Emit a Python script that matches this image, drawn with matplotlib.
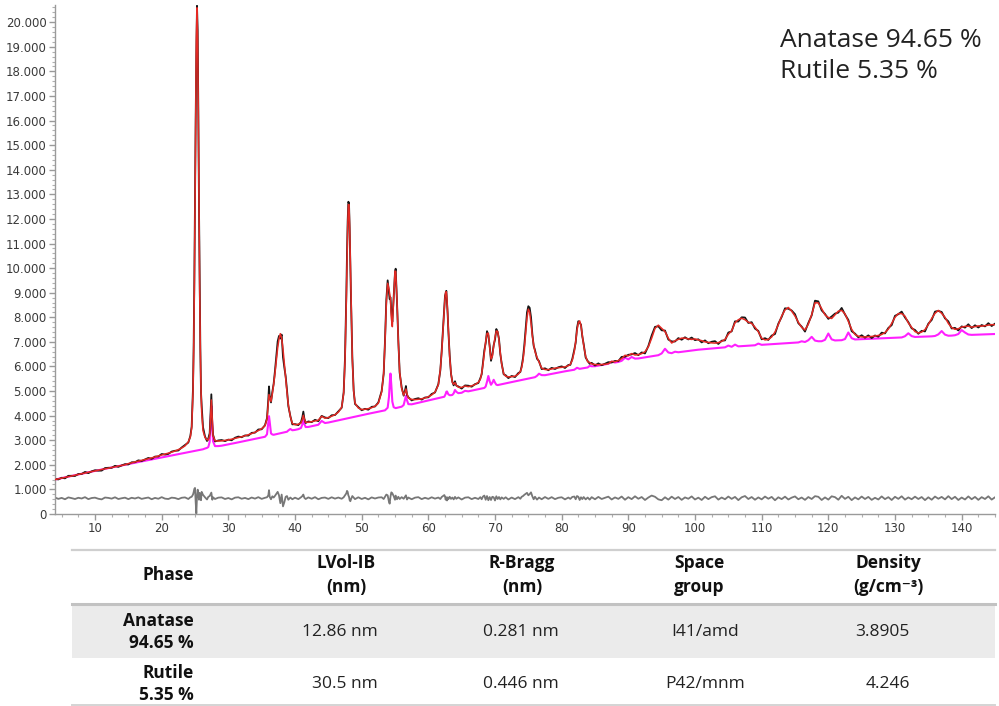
import numpy as np
import matplotlib
matplotlib.use("Agg")
import matplotlib.pyplot as plt
from matplotlib.ticker import MultipleLocator, FuncFormatter
from matplotlib.lines import Line2D
from matplotlib.patches import Rectangle

# ---------------------------------------------------------------------------
# Rietveld refinement of a TiO2 powder pattern (Cu K-alpha)
# ---------------------------------------------------------------------------
two_theta = [
    4.0, 4.5, 5.0, 5.5, 6.0, 6.5, 7.0, 7.5, 8.0, 8.5, 9.0, 9.5, 10.0, 10.5, 11.0, 11.5, 12.0, 12.5, 13.0, 13.5,
    14.0, 14.5, 15.0, 15.5, 16.0, 16.5, 17.0, 17.5, 18.0, 18.5, 19.0, 19.5, 20.0, 20.5, 21.0, 21.5, 22.0, 22.5, 23.0, 23.5,
    24.0, 24.3, 24.5, 24.7, 24.8, 24.9, 25.0, 25.1, 25.2, 25.3, 25.4, 25.5, 25.6, 25.7, 25.8, 25.9, 26.0, 26.2, 26.5, 26.8,
    27.0, 27.2, 27.3, 27.45, 27.6, 27.7, 28.0, 28.5,
    29.0, 29.5, 30.0, 30.5, 31.0, 31.5, 32.0, 32.5, 33.0, 33.5, 34.0, 34.5, 35.0, 35.5,
    35.8, 36.0, 36.1, 36.2, 36.4, 36.6, 36.8, 37.0, 37.2, 37.4, 37.6, 37.8, 38.0, 38.2, 38.4, 38.6, 38.8, 39.0, 39.3, 39.6,
    40.0, 40.5, 40.9, 41.1, 41.25, 41.4, 41.6, 42.0, 42.5, 43.0, 43.5, 44.0, 44.5, 45.0, 45.5, 46.0, 46.5,
    47.0, 47.3, 47.5, 47.7, 47.8, 47.9, 48.0, 48.1, 48.2, 48.3, 48.4, 48.6, 48.8, 49.0, 49.5, 50.0, 50.5, 51.0, 51.5, 52.0, 52.5,
    53.0, 53.3, 53.5, 53.7, 53.9, 54.1, 54.2, 54.32, 54.45, 54.6, 54.8, 55.0, 55.1, 55.3, 55.5, 55.7, 56.0, 56.3, 56.5, 56.64,
    56.8, 57.0, 57.5, 58.0, 58.5, 59.0, 59.5, 60.0, 60.5, 61.0, 61.5,
    61.8, 62.0, 62.2, 62.4, 62.5, 62.6, 62.7, 62.8, 62.9, 63.0, 63.2, 63.4, 63.6, 63.8, 64.0, 64.2, 64.5, 65.0, 65.5, 66.0,
    66.5, 67.0, 67.5,
    67.8, 68.0, 68.2, 68.4, 68.6, 68.8, 69.0, 69.2, 69.4, 69.6, 69.8, 70.0, 70.2, 70.4, 70.6, 70.8, 71.0, 71.3, 71.6, 72.0, 72.5,
    73.0, 73.5, 73.8, 74.0, 74.2, 74.4, 74.6, 74.8, 75.0, 75.2, 75.4, 75.6, 75.8, 76.0, 76.3, 76.6, 77.0, 77.5, 78.0, 78.5,
    79.0, 79.5,
    80.0, 80.5, 81.0, 81.3, 81.6, 81.9, 82.1, 82.3, 82.5, 82.7, 82.9, 83.1, 83.3, 83.6, 83.9, 84.2, 84.5,
    85.0, 85.5, 86.0, 86.5, 87.0, 87.5, 88.0, 88.5, 89.0, 89.5,
    90.0, 90.5, 91.0, 91.5, 92.0, 92.5, 93.0, 93.5, 94.0, 94.5,
    95.0, 95.5, 96.0, 96.5, 97.0, 97.5, 98.0, 98.5, 99.0, 99.5,
    100.0, 100.5, 101.0, 101.5, 102.0, 102.5, 103.0, 103.5, 104.0, 104.5,
    105.0, 105.5, 106.0, 106.5, 107.0, 107.5, 108.0, 108.5, 109.0, 109.5,
    110.0, 110.5, 111.0, 111.5, 112.0, 112.5, 113.0, 113.5, 114.0, 114.5,
    115.0, 115.5, 116.0, 116.5, 117.0, 117.5, 118.0, 118.5, 119.0, 119.5,
    120.0, 120.5, 121.0, 121.5, 122.0, 122.5, 123.0, 123.5, 124.0, 124.5,
    125.0, 125.5, 126.0, 126.5, 127.0, 127.5, 128.0, 128.5, 129.0, 129.5,
    130.0, 130.5, 131.0, 131.5, 132.0, 132.5, 133.0, 133.5, 134.0, 134.5,
    135.0, 135.5, 136.0, 136.5, 137.0, 137.5, 138.0, 138.5, 139.0, 139.5,
    140.0, 140.5, 141.0, 141.5, 142.0, 142.5, 143.0, 143.5, 144.0, 144.5,
    145.0,
]

# background plus rutile contribution (counts)
bkg_rutile = [
    1400, 1430, 1460, 1490, 1518, 1548, 1577, 1607, 1636, 1666, 1696, 1725, 1755, 1782, 1810, 1837, 1865, 1892, 1920, 1947,
    1975, 2002, 2030, 2058, 2085, 2112, 2140, 2168, 2195, 2222, 2250, 2278, 2305, 2332, 2358, 2384, 2411, 2438, 2464, 2490,
    2517, 2533, 2543, 2554, 2559, 2565, 2570, 2575, 2580, 2586, 2591, 2596, 2601, 2606, 2612, 2617, 2622, 2632, 2663, 2689,
    2724, 2934, 3465, 4397, 3480, 2960, 2761, 2762,
    2778, 2804, 2830, 2858, 2886, 2914, 2942, 2970, 2998, 3026, 3054, 3082, 3110, 3141,
    3240, 3752, 3978, 3764, 3277, 3234, 3222, 3234, 3246, 3259, 3271, 3284, 3296, 3308, 3321, 3333, 3346, 3398, 3457, 3405,
    3420, 3450, 3499, 3646, 3815, 3664, 3536, 3540, 3570, 3600, 3630, 3785, 3700, 3720, 3750, 3780, 3810,
    3840, 3858, 3870, 3882, 3888, 3894, 3900, 3906, 3912, 3918, 3924, 3936, 3948, 3960, 3990, 4020, 4048, 4076, 4104, 4132, 4160,
    4188, 4205, 4216, 4267, 4323, 4770, 5270, 5712, 5239, 4568, 4344, 4320, 4306, 4319, 4332, 4345, 4364, 4433, 4656, 4805,
    4625, 4468, 4460, 4492, 4524, 4556, 4588, 4620, 4651, 4682, 4713,
    4732, 4744, 4756, 4769, 4825, 4881, 4972, 4984, 4920, 4866, 4833, 4831, 4843, 4906, 5043, 4970, 4914, 4930, 5009, 4988,
    5017, 5046, 5075,
    5092, 5104, 5116, 5127, 5184, 5375, 5612, 5399, 5255, 5337, 5458, 5345, 5257, 5243, 5255, 5266, 5278, 5295, 5313, 5336, 5365,
    5394, 5423, 5440, 5452, 5464, 5475, 5487, 5498, 5510, 5521, 5532, 5542, 5553, 5564, 5620, 5706, 5648, 5645, 5672, 5699,
    5726, 5753,
    5780, 5803, 5826, 5840, 5854, 5867, 5907, 5946, 5925, 5904, 5913, 5923, 5932, 5946, 5959, 6023, 6007,
    6010, 6035, 6060, 6085, 6110, 6195, 6160, 6185, 6230, 6355,
    6290, 6385, 6320, 6326, 6350, 6370, 6392, 6414, 6436, 6458,
    6530, 6720, 6568, 6540, 6600, 6578, 6596, 6615, 6632, 6651,
    6670, 6682, 6694, 6706, 6718, 6730, 6742, 6754, 6766, 6778,
    6850, 6800, 6888, 6818, 6826, 6835, 6844, 6853, 6862, 6931,
    6880, 6889, 6898, 6907, 6916, 6925, 6934, 6943, 6952, 6961,
    6970, 6977, 7024, 6995, 7068, 7205, 7052, 7025, 7026, 7083,
    7340, 7102, 7058, 7061, 7068, 7115, 7382, 7149, 7098, 7103,
    7110, 7116, 7122, 7128, 7134, 7140, 7146, 7152, 7158, 7164,
    7170, 7175, 7180, 7230, 7350, 7235, 7200, 7205, 7210, 7215,
    7220, 7225, 7240, 7305, 7440, 7295, 7250, 7255, 7270, 7320,
    7480, 7380, 7300, 7285, 7290, 7295, 7300, 7305, 7310, 7315,
    7320,
]

# anatase contribution to the calculated profile (counts)
anatase = [
    0, 0, 0, 0, 0, 0, 0, 0, 0, 0, 0, 0, 0, 0, 0, 0, 0, 0, 0, 0,
    0, 0, 20, 25, 30, 35, 40, 45, 55, 60, 70, 80, 90, 100, 115, 130, 150, 180, 220, 280,
    420, 600, 950, 2410, 4050, 6550, 9900, 13600, 16720, 18000, 16720, 13600, 9900, 6550, 4050, 2410, 1530, 760, 450, 330,
    290, 260, 250, 240, 235, 230, 220, 205,
    195, 190, 185, 185, 190, 195, 200, 210, 225, 245, 270, 310, 360, 450,
    620, 800, 880, 1000, 1300, 1650, 2050, 2500, 3000, 3500, 3850, 4050, 3850, 3400, 2800, 2200, 1600, 1050, 500, 280,
    210, 200, 200, 200, 200, 200, 195, 190, 185, 185, 185, 190, 195, 205, 225, 260, 330,
    500, 1050, 2350, 4850, 6400, 7750, 8680, 8680, 7750, 6400, 4850, 2350, 1050, 550, 320, 230, 210, 210, 220, 250, 345,
    775, 1525, 2770, 4300, 5060, 4370, 3685, 3040, 2740, 3050, 4400, 5560, 5560, 4350, 2660, 1430, 740, 400, 300, 280,
    265, 250, 200, 160, 140, 130, 130, 150, 190, 275, 535,
    1140, 1825, 2680, 3600, 3975, 4150, 4065, 3720, 3190, 2640, 1570, 900, 510, 370, 300, 270, 240, 220, 195, 190,
    195, 215, 280,
    385, 615, 970, 1420, 1825, 1970, 1740, 1390, 1045, 1075, 1370, 1835, 2185, 2185, 1815, 1275, 815, 410, 290, 240, 220,
    210, 265, 355, 500, 790, 1260, 1865, 2480, 2820, 2695, 2235, 1700, 1325, 1040, 750, 480, 285, 230, 200, 200,
    205, 195,
    185, 180, 205, 250, 405, 750, 1100, 1525, 1855, 1950, 1745, 1330, 930, 460, 235, 140, 95,
    70, 35, 20, 5, 0, 15, 30, 55, 90, 100,
    140, 140, 146, 154, 172, 230, 408, 736, 1114, 1222,
    1020, 700, 582, 413, 444, 525, 556, 537, 488, 449,
    450, 398, 356, 294, 262, 230, 208, 216, 254, 322,
    460, 651, 892, 1083, 1134, 1065, 956, 897, 738, 479,
    270, 191, 202, 293, 484, 775, 1116, 1357, 1448, 1289,
    1080, 823, 566, 489, 652, 900, 1538, 1561, 1324, 1017,
    650, 850, 1046, 1189, 1212, 1025, 450, 361, 204, 127,
    90, 84, 88, 92, 106, 120, 154, 228, 362, 586,
    830, 975, 970, 815, 420, 355, 220, 155, 190, 285,
    480, 725, 920, 975, 720, 705, 500, 325, 240, 215,
    120, 250, 340, 315, 330, 355, 340, 355, 370, 385,
    380,
]

# observed minus calculated (counts)
residual = [
    30, -25, 15, -40, 35, 5, -30, 20, -10, 45, -35, 10, 25, -20, -45, 30, 15, -15, 40, -30,
    0, 25, -35, 20, -10, 35, -25, 5, 30, -40, 15, -20, 45, -15, -30, 25, 10, -35, 20, 35,
    -30, 40, 60, 150, 250, 380, 420, -150, -620, 80, 350, 180, -60, 220, 120, -80, 260, 140, 40, -50,
    60, 90, 150, 230, -60, 40, -30, 25,
    35, -30, 10, -45, 25, 40, -20, 15, -35, 30, -15, 45, -25, 20,
    40, 120, 330, 60, -40, 80, 30, 100, 180, 260, 120, -200, 150, -330, -160, 60, 90, -60, 30, -40,
    25, -35, 40, 90, 150, 20, -30, 35, -20, 45, -40, 15, 30, -25, 40, -15, 30,
    -20, 40, 120, 200, 300, 260, 120, 60, -80, -120, -40, 90, 30, -35, 40, -30, 20, -45, 35, -10, 30,
    40, -30, 60, 150, 120, -150, -220, 60, 240, 200, 90, -60, 110, -40, 60, -30, 45, -20, 60, 120,
    -50, 30, -40, 25, 45, -35, 20, -25, 40, -15, 30,
    -30, 50, 90, 130, 70, -60, 40, -90, 35, -40, 60, -25, 30, -45, 55, -20, 35, -50, 25, 40,
    -35, 20, -30,
    45, -40, 70, 110, -60, 90, -80, 50, -70, 60, 40, -90, 80, -30, 50, -45, 35, -25, 40, -50, 30,
    -35, 45, -20, 60, 90, 140, 180, 220, 120, 170, 240, 80, -40, 60, -55, 30, -40, 50, -25, 45,
    -35, 20,
    40, -45, 30, -25, 55, 70, -40, 90, 60, -70, 40, -35, 50, -45, 30, -55, 45,
    -40, 55, -30, 20, 65, -50, 35, -25, 70, -60,
    45, -35, 80, -20, 50, -70, 30, 110, 60, -45,
    -80, 40, -55, 65, -30, 50, -65, 35, -20, 75,
    -50, 25, -70, 60, -35, 45, 80, -55, 30, -40,
    70, -25, 55, -75, 40, 90, -30, 50, -60, 35,
    -45, 70, -20, 55, -80, 40, -35, 65, -50, 25,
    75, -40, 30, -65, 50, -30, 85, 60, -70, 35,
    -55, 80, 45, -60, 100, -25, 60, -75, 35, -45,
    70, -30, 55, -65, 20, -50, 75, -35, 45, -70,
    60, -25, 80, -55, 35, -40, 65, -30, 50, -75,
    40, -60, 70, -20, 55, -45, 85, -35, 60, -70,
    30, -50, 75, -40, 55, -65, 45, -30, 80, -55,
    40,
]

diff_offset = 640

phase_names = ["Anatase", "Rutile"]
phase_fractions = [94.65, 5.35]
lvol_ib = ["12.86 nm", "30.5 nm"]
r_bragg = ["0.281 nm", "0.446 nm"]
space_groups = ["I41/amd", "P42/mnm"]
densities = ["3.8905", "4.246"]
table_headers = ["Phase", "LVol-IB\n(nm)", "R-Bragg\n(nm)", "Space\ngroup", "Density\n(g/cm\u207b\u00b3)"]

# ---------------------------------------------------------------------------
x = np.asarray(two_theta, dtype=float)
y_bkg = np.asarray(bkg_rutile, dtype=float)
y_calc = y_bkg + np.asarray(anatase, dtype=float)
y_obs = y_calc + np.asarray(residual, dtype=float)
y_diff = np.asarray(residual, dtype=float) + diff_offset
assert len(x) == len(y_bkg) == len(y_calc) == len(y_obs)

W, H = 999, 706
fig = plt.figure(figsize=(W / 100, H / 100), dpi=100)
fig.patch.set_facecolor("white")


def fx(px):
    return px / W


def fy(py):
    return 1 - py / H


ax = fig.add_axes([fx(55), fy(514), fx(995) - fx(55), fy(5) - fy(514)])

ax.plot(x, y_bkg, color="#ff1fff", lw=1.5, zorder=1)
ax.plot(x, y_obs, color="#151515", lw=1.3, zorder=2)
ax.plot(x, y_calc, color="#e42a24", lw=1.1, zorder=3)
ax.plot(x, y_diff, color="#777777", lw=1.3, zorder=2)

ax.set_xlim(4, 145)
ax.set_ylim(0, 20700)

for side in ("top", "right"):
    ax.spines[side].set_visible(False)
for side in ("left", "bottom"):
    ax.spines[side].set_color("#9a9a9a")
    ax.spines[side].set_linewidth(1.0)

ax.xaxis.set_major_locator(MultipleLocator(10))
ax.xaxis.set_minor_locator(MultipleLocator(2.5))
ax.yaxis.set_major_locator(MultipleLocator(1000))
ax.yaxis.set_minor_locator(MultipleLocator(200))
ax.xaxis.set_major_formatter(FuncFormatter(lambda v, p: f"{int(round(v))}" if v >= 10 else ""))
ax.yaxis.set_major_formatter(FuncFormatter(lambda v, p: f"{int(round(v)):,}".replace(",", ".")))
ax.tick_params(axis="both", which="major", direction="out", length=4, width=1.0,
               color="#9a9a9a", labelsize=8.5, labelcolor="#3a3a3a", pad=2)
ax.tick_params(axis="both", which="minor", direction="out", length=2, width=0.8, color="#b0b0b0")

# phase fractions
for i, (name, frac) in enumerate(zip(phase_names, phase_fractions)):
    fig.text(fx(780), fy(47 + 31 * i), f"{name} {frac:.2f} %", fontsize=19,
             family=["Open Sans", "DejaVu Sans"], color="#222222", va="baseline", ha="left")

# refinement summary table
tfont = ["Open Sans", "DejaVu Sans"]
fig.add_artist(Rectangle((fx(72), fy(658)), fx(995) - fx(72), fy(605) - fy(658),
                         transform=fig.transFigure, facecolor="#ebebeb", edgecolor="none"))
fig.add_artist(Line2D([fx(72), fx(995)], [fy(550), fy(550)], transform=fig.transFigure,
                      color="#cfcfcf", lw=1.6))
fig.add_artist(Line2D([fx(72), fx(995)], [fy(604), fy(604)], transform=fig.transFigure,
                      color="#c2c2c2", lw=2.2))
fig.add_artist(Line2D([fx(72), fx(995)], [fy(705), fy(705)], transform=fig.transFigure,
                      color="#d4d4d4", lw=1.4))

header_x = [194, 346, 522, 699, 888]
header_ha = ["right", "center", "center", "center", "center"]
for hx, ha, label in zip(header_x, header_ha, table_headers):
    fig.text(fx(hx), fy(575), label, ha=ha, va="center", fontsize=12.5, fontweight="bold",
             family=tfont, color="#111111", linespacing=1.45, multialignment="center")

row_y = [632, 684]
for i, yy in enumerate(row_y):
    fig.text(fx(194), fy(yy), f"{phase_names[i]}\n{phase_fractions[i]:.2f} %", ha="right", va="center",
             fontsize=12.5, fontweight="bold", family=tfont, color="#111111", linespacing=1.3,
             multialignment="right")
    fig.text(fx(378), fy(yy), lvol_ib[i], ha="right", va="center", fontsize=12.5, family=tfont, color="#222222")
    fig.text(fx(559), fy(yy), r_bragg[i], ha="right", va="center", fontsize=12.5, family=tfont, color="#222222")
    fig.text(fx(705), fy(yy), space_groups[i], ha="center", va="center", fontsize=12.5, family=tfont, color="#222222")
    fig.text(fx(910), fy(yy), densities[i], ha="right", va="center", fontsize=12.5, family=tfont, color="#222222")

fig.savefig("out.png", dpi=100, facecolor="white")
